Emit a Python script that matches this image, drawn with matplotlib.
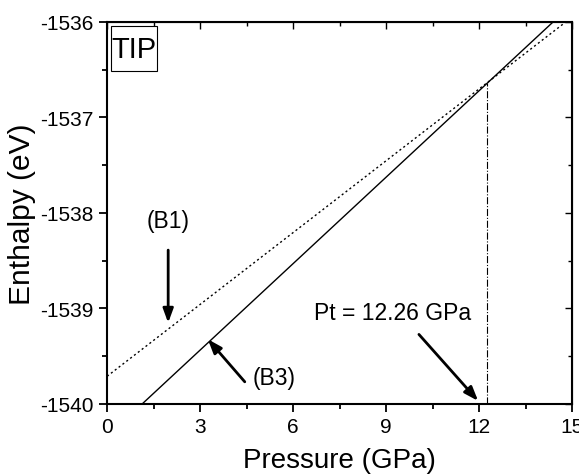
import matplotlib.pyplot as plt
from matplotlib.patches import Rectangle
import numpy as np

# data
p_b1 = [0.0, 15.0]
h_b1 = [-1539.71, -1535.95]
p_b3 = [1.13, 14.39]
h_b3 = [-1540.0, -1536.0]
p_t = 12.26
h_t = -1536.64

xticks = [0, 3, 6, 9, 12, 15]
yticks = [-1540, -1539, -1538, -1537, -1536]

plt.rcParams['font.family'] = ['Liberation Sans', 'DejaVu Sans']
plt.rcParams['axes.unicode_minus'] = False

fig = plt.figure(figsize=(5.79, 4.77), dpi=100)
ax = fig.add_axes([0.185, 0.151, 0.803, 0.801])

ax.plot(p_b1, h_b1, color='black', lw=1, linestyle=(0, (1.5, 2)))
ax.plot(p_b3, h_b3, color='black', lw=1)
ax.plot([p_t, p_t], [-1540, h_t], color='black', lw=0.8, linestyle='-.')

ax.set_xlim(0, 15)
ax.set_ylim(-1540, -1536)
ax.set_xticks(xticks)
ax.set_yticks(yticks)
ax.set_xticks(np.arange(0, 15.1, 1.5), minor=True)
ax.set_yticks(np.arange(-1540, -1535.9, 0.5), minor=True)
ax.tick_params(labelsize=15, width=1.3, length=6, direction='out')
ax.tick_params(which='minor', width=1.3, length=3.5, direction='out')
for s in ax.spines.values():
    s.set_linewidth(1.5)

# mirrored ticks inside on top/right
top = ax.secondary_xaxis('top')
top.set_xticks(xticks)
top.set_xticks(np.arange(0, 15.1, 1.5), minor=True)
top.tick_params(direction='in', length=5, width=1, labeltop=False)
top.tick_params(which='minor', direction='in', length=3, width=1)
right = ax.secondary_yaxis('right')
right.set_yticks(yticks)
right.set_yticks(np.arange(-1540, -1535.9, 0.5), minor=True)
right.tick_params(direction='in', length=5, width=1, labelright=False)
right.tick_params(which='minor', direction='in', length=3, width=1)

ax.set_xlabel('Pressure (GPa)', fontsize=20, labelpad=8)
ax.set_ylabel('Enthalpy (eV)', fontsize=21.5, labelpad=3)

# label box
ax.add_patch(Rectangle((0.13, -1536.51), 1.48, 0.47, fill=False, ec='black', lw=0.8))
ax.text(0.87, -1536.28, 'TIP', fontsize=21, ha='center', va='center')

arrow = dict(arrowstyle='-|>,head_length=0.6,head_width=0.22', lw=2, color='black', mutation_scale=14)
ax.annotate('', xy=(1.97, -1539.18), xytext=(1.97, -1538.36), arrowprops=arrow)
ax.text(1.97, -1538.08, '(B1)', fontsize=16.5, ha='center', va='center')
ax.annotate('', xy=(3.19, -1539.30), xytext=(4.5, -1539.79), arrowprops=arrow)
ax.text(5.4, -1539.72, '(B3)', fontsize=16.5, ha='center', va='center')
ax.annotate('', xy=(12.03, -1539.99), xytext=(10.0, -1539.25), arrowprops=arrow)
ax.text(9.2, -1539.04, 'Pt = 12.26 GPa', fontsize=16.5, ha='center', va='center')

fig.savefig('out.png', dpi=100)
